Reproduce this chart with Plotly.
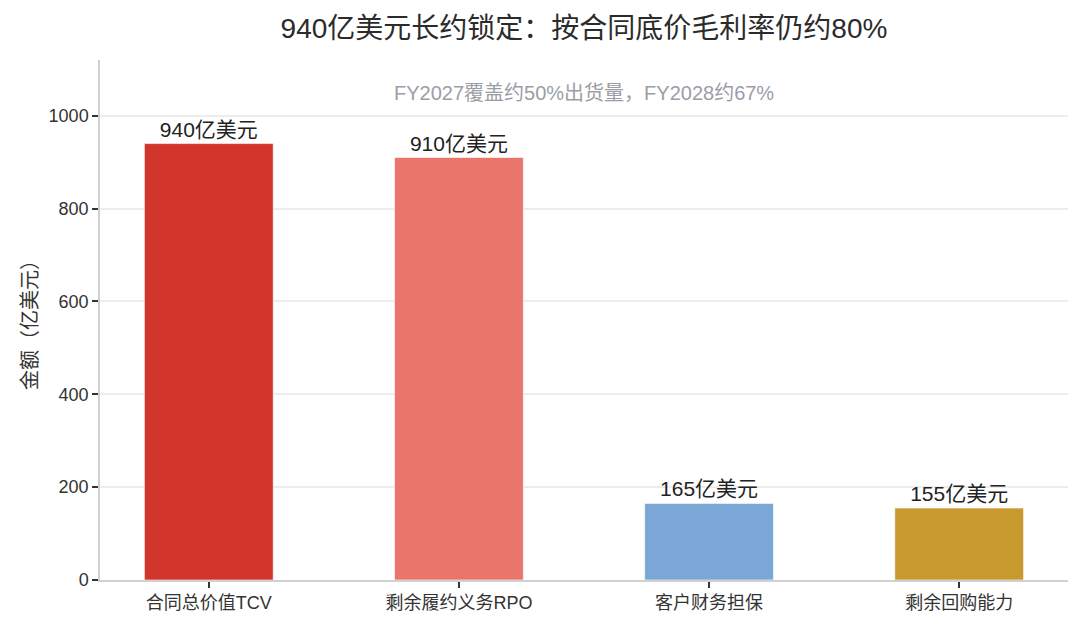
import plotly.graph_objects as go

categories = ["合同总价值TCV", "剩余履约义务RPO", "客户财务担保", "剩余回购能力"]
values = [940, 910, 165, 155]
bar_labels = ["940亿美元", "910亿美元", "165亿美元", "155亿美元"]
bar_colors = ["#D1352C", "#E9756B", "#7AA7D6", "#C8992F"]

font_cn = "Liberation Sans, Noto Sans CJK SC, sans-serif"

fig = go.Figure()
fig.add_trace(go.Bar(
    x=list(range(len(categories))),
    y=values,
    width=0.515,
    marker=dict(color=bar_colors, line=dict(color="rgba(255,255,255,0.6)", width=1)),
    text=bar_labels,
    textposition="outside",
    textfont=dict(size=21, color="#222222", family=font_cn),
    cliponaxis=False,
    hoverinfo="x+y",
))

fig.add_annotation(
    text="FY2027覆盖约50%出货量，FY2028约67%",
    xref="paper", yref="paper", x=0.5, y=0.937, yanchor="middle",
    showarrow=False,
    font=dict(size=20, color="#9A9EA6", family=font_cn),
)

# page is drawn with the browser's 8px body margin, so margins are shifted
fig.update_layout(
    width=1080, height=628,
    margin=dict(l=92, r=20, t=52, b=56),
    paper_bgcolor="white", plot_bgcolor="white",
    font=dict(family=font_cn, color="#333333"),
    title=dict(
        text="940亿美元长约锁定：按合同底价毛利率仍约80%",
        xref="paper", x=0.5, xanchor="center", y=0.968, yanchor="middle",
        font=dict(size=28, color="#2b2b2b", family=font_cn),
    ),
    showlegend=False,
)

fig.update_xaxes(
    tickmode="array",
    tickvals=list(range(len(categories))),
    ticktext=categories,
    range=[-0.435, 3.435],
    showline=True, linecolor="#D0D0D0", linewidth=1.5,
    ticks="outside", ticklen=6, tickcolor="#333333", tickwidth=1.5,
    tickfont=dict(size=18, color="#333333"),
    showgrid=False,
    automargin=False,
)

fig.update_yaxes(
    range=[0, 1120],
    tickvals=[0, 200, 400, 600, 800, 1000],
    showline=True, linecolor="#D0D0D0", linewidth=1.5,
    ticks="outside", ticklen=6, tickcolor="#333333", tickwidth=1.5,
    tickfont=dict(size=18, color="#333333"),
    showgrid=True, gridcolor="#EDEDED", gridwidth=1.5,
    zeroline=False,
    automargin=False,
    title=dict(text="金额（亿美元）", font=dict(size=20, color="#333333"), standoff=6),
)

fig.write_html("out.html")
